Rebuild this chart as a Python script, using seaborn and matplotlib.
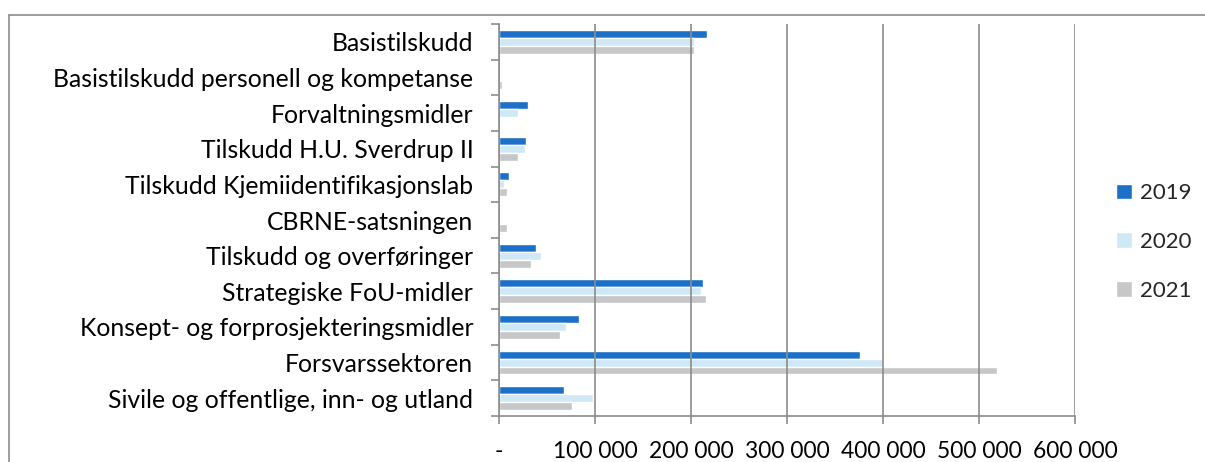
import pandas as pd
import matplotlib.pyplot as plt
import seaborn as sns
from matplotlib.ticker import FixedLocator, FuncFormatter

# Kategorier (ovenfra og ned)
kategorier = ['Basistilskudd', 'Basistilskudd personell og kompetanse', 'Forvaltningsmidler',
              'Tilskudd H.U. Sverdrup II', 'Tilskudd Kjemiidentifikasjonslab', 'CBRNE-satsningen',
              'Tilskudd og overføringer', 'Strategiske FoU-midler',
              'Konsept- og forprosjekteringsmidler', 'Forsvarssektoren',
              'Sivile og offentlige, inn- og utland']
aar = ['2019', '2020', '2021']

# Verdier
v2019 = [217000, 0, 30500, 28000, 10400, 0, 38500, 213000, 83700, 376000, 67400]
v2020 = [203000, 0, 19500, 27000, 4900, 0, 43700, 210800, 69500, 400000, 97600]
v2021 = [203000, 3000, 0, 19800, 8300, 8000, 33700, 216000, 63500, 518500, 75700]

farger = {'2019': '#1C70C8', '2020': '#CFE8F6', '2021': '#C6C7C9'}

df = pd.DataFrame({
    'Kategori': kategorier * 3,
    'År': [a for a in aar for _ in kategorier],
    'Beløp': v2019 + v2020 + v2021,
})

sns.set_style('white')
plt.rcParams['font.family'] = ['Lato', 'DejaVu Sans']

fig = plt.figure(figsize=(12.05, 4.62), dpi=100)
ax = fig.add_axes([499 / 1205, 46 / 462, 576 / 1205, 392 / 462])

sns.barplot(data=df, x='Beløp', y='Kategori', hue='År', orient='h', palette=farger,
            width=0.67, saturation=1, ax=ax, order=kategorier, hue_order=aar)

grid = '#8C8C8C'
ax.set_xlim(0, 600000)
ax.set_ylim(10.5, -0.5)
ax.xaxis.set_major_locator(FixedLocator([0, 100000, 200000, 300000, 400000, 500000, 600000]))
ax.xaxis.set_major_formatter(FuncFormatter(lambda v, p: '-' if v == 0 else f'{int(v):,}'.replace(',', ' ')))
ax.grid(axis='x', color=grid, linewidth=1.2)
ax.grid(axis='y', visible=False)
ax.set_axisbelow(False)

ax.set_xlabel('')
ax.set_ylabel('')
for s in ['top', 'right']:
    ax.spines[s].set_visible(False)
for s in ['left', 'bottom']:
    ax.spines[s].set_color(grid)
    ax.spines[s].set_linewidth(1.2)

ax.yaxis.set_minor_locator(FixedLocator([i - 0.5 for i in range(12)]))
ax.tick_params(axis='y', which='major', length=0, pad=18.5, labelsize=17.8, labelcolor='#000000')
ax.tick_params(axis='y', which='minor', left=True, length=5.5, width=1.2, color=grid)
ax.tick_params(axis='x', which='major', bottom=True, length=6, width=1.2, color=grid,
               pad=12, labelsize=16.4, labelcolor='#000000')

handles, labels = ax.get_legend_handles_labels()
ax.legend_.remove()
fig.legend(handles, labels, loc='center left', bbox_to_anchor=(1116 / 1205, 220 / 462),
           frameon=False, fontsize=16, handlelength=0.7, handleheight=0.7,
           handletextpad=0.4, labelspacing=1.3, borderpad=0, borderaxespad=0)

# Ramme rundt diagrammet
fig.add_artist(plt.Line2D([8.5 / 1205, 8.5 / 1205], [0, 1 - 14.5 / 462], transform=fig.transFigure,
                          color=grid, linewidth=1.2))
fig.add_artist(plt.Line2D([8.5 / 1205, 1], [1 - 14.5 / 462, 1 - 14.5 / 462], transform=fig.transFigure,
                          color=grid, linewidth=1.2))

fig.savefig('out.png', dpi=100)
